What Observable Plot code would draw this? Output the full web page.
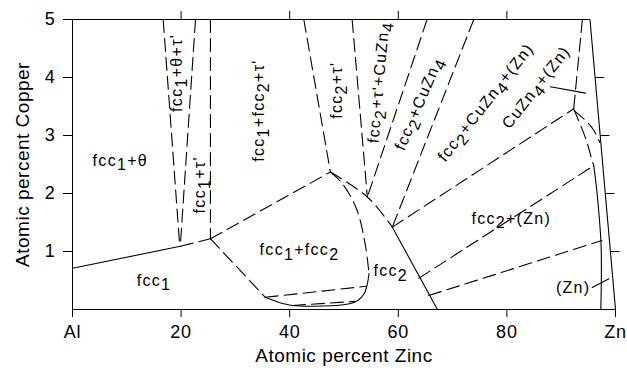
<!DOCTYPE html>
<html><head><meta charset="utf-8">
<script src="https://cdn.jsdelivr.net/npm/d3@7"></script>
<script src="https://cdn.jsdelivr.net/npm/@observablehq/plot@0.6"></script>
<style>
body{margin:0;background:#fff}
svg{font-family:"Liberation Sans",Arial,sans-serif}
g[aria-description="phase-labels"] text{letter-spacing:1.3px;font-size:16px}
g[aria-description="axis-title"] text{letter-spacing:0.5px}
</style></head><body><div id="chart"></div>
<script>
// ---- axis ticks ----
const xTicks = [0, 20, 40, 60, 80, 100];
const xTickLabels = ["Al", "20", "40", "60", "80", "Zn"];
const yTicks = [1, 2, 3, 4, 5];
const rightTicks = [1, 2, 3, 4];

// ---- solid phase boundaries [at% Zn, at% Cu] ----
const fcc1Solvus = [[0, 0.71], [19.85, 1.09]];
const fcc1fcc2Bottom = [[54.6, 0.62], [54.3, 0.44], [53.7, 0.27], [52.6, 0.16], [51, 0.1], [46, 0.06], [40.5, 0.07], [37.8, 0.13], [35.5, 0.21]];
const fcc2Lower = [[58.9, 1.42], [67.2, 0]];
const znEdge = [[95.3, 5], [100, 0]];
const znSolvus = [[96.0, 2.48], [96.5, 2.1], [97.0, 1.6], [97.35, 1.1], [97.4, 0.6], [97.3, 0]];
const cuZn4Tie = [[88, 3.84], [94.5, 3.73]];
const znLeader = [[95.7, 0.38], [98.8, 0.53]];

// ---- dashed phase boundaries ----
const thetaLeft = [[16.7, 5], [19.75, 1.09]];
const thetaRight = [[22.65, 5], [19.85, 1.09]];
const tauLeft = [[25.4, 5], [25.4, 1.22]];
const fcc1SolvusDash = [[19.85, 1.09], [25.4, 1.22]];
const fcc1fcc2Top = [[25.4, 1.22], [47.5, 2.37]];
const fcc1fcc2Left = [[25.4, 1.22], [35.5, 0.21]];
const fcc1fcc2Right = [[47.5, 2.37], [49.7, 2.17], [52.4, 1.71], [54.0, 1.07], [54.6, 0.62]];
const tauFcc2Left = [[42.6, 5], [47.5, 2.37]];
const fcc2Upper = [[47.5, 2.37], [54.3, 1.94], [58.9, 1.42]];
const tauFcc2Right = [[51.5, 5], [54.3, 1.94]];
const cuZn4Left = [[65.3, 5], [54.3, 1.94]];
const cuZn4Right = [[73.9, 5], [58.9, 1.42]];
const threePhase = [[58.9, 1.42], [92.3, 3.46]];
const cuZn4Edge = [[93.9, 5], [92.3, 3.46]];
const znSolvusDash = [[92.3, 3.46], [94.5, 2.95], [95.6, 2.6], [96.0, 2.48]];
const cuZn4Arc = [[92.4, 3.43], [94.8, 3.23], [96.0, 3.09], [97.1, 2.88]];
const tieA = [[35.5, 0.21], [54.0, 0.40]];
const tieB = [[40.5, 0.07], [52.1, 0.14]];
const tieC = [[63.8, 0.54], [96.0, 2.48]];
const tieD = [[65.6, 0.24], [97.5, 1.19]];

// ---- phase labels ----
const labelText = ["fcc_1+θ", "fcc_1", "fcc_1+θ+τ'", "fcc_1+τ'", "fcc_1+fcc_2+τ'", "fcc_2+τ'", "fcc_2+τ'+CuZn_4", "fcc_2+CuZn_4", "fcc_2+CuZn_4+(Zn)", "CuZn_4+(Zn)", "fcc_2+(Zn)", "fcc_1+fcc_2", "fcc_2", "(Zn)"];
const labelX = [8.8, 15, 19.3, 23.5, 34.3, 48.7, 56.4, 63.8, 76.1, 85.4, 80.8, 41.8, 58.6, 92.2];
const labelY = [2.57, 0.5, 4.08, 2.15, 3.43, 3.78, 3.92, 3.55, 3.57, 3.83, 1.57, 1.02, 0.67, 0.38];
const labelAngle = [0, 0, -90, -90, -90, -90, -85, -67, -52, -52, 0, 0, 0, 0];

const toRows = (lines) => lines.flatMap((pts, i) => pts.map(([x, y]) => ({id: i, x, y})));
const solidRows = toRows([fcc1Solvus, fcc1fcc2Bottom, fcc2Lower, znEdge, znSolvus, cuZn4Tie, znLeader]);
const dashedRows = toRows([thetaLeft, thetaRight, tauLeft, fcc1SolvusDash, fcc1fcc2Top, fcc1fcc2Left, fcc1fcc2Right, tauFcc2Left, fcc2Upper, tauFcc2Right, cuZn4Left, cuZn4Right, threePhase, cuZn4Edge, znSolvusDash, cuZn4Arc, tieA, tieB, tieC, tieD]);
const labels = labelText.map((t, i) => ({t, x: labelX[i], y: labelY[i], r: labelAngle[i]}));
const edgeX = (y) => znEdge[0][0] + (znEdge[1][0] - znEdge[0][0]) * (znEdge[0][1] - y) / (znEdge[0][1] - znEdge[1][1]);
const rightTickRows = rightTicks.map(y => ({x1: edgeX(y), x2: edgeX(y) + 1.7, y}));

const plot = Plot.plot({
  width: 627, height: 370,
  marginLeft: 72, marginRight: 12, marginTop: 19, marginBottom: 61,
  style: {fontFamily: "Liberation Sans, Arial, sans-serif", fontSize: "18px", color: "black", background: "white"},
  x: {domain: [0, 100]},
  y: {domain: [0, 5]},
  marks: [
    Plot.axisX({ticks: xTicks, tickFormat: (d) => xTickLabels[xTicks.indexOf(d)], tickSize: 8, tickPadding: 8, label: null, fontSize: 18}),
    Plot.axisX({anchor: "top", ticks: [20, 40, 60, 80], tickSize: 9, tickFormat: () => "", label: null}),
    Plot.axisY({ticks: yTicks, tickFormat: (d) => String(d), tickSize: 9, tickPadding: 8, label: null, fontSize: 18}),
    Plot.ruleX([0], {stroke: "black"}),
    Plot.ruleY([0], {stroke: "black"}),
    Plot.ruleY([5], {x1: 0, x2: znEdge[0][0], stroke: "black"}),
    Plot.link(rightTickRows, {x1: "x1", x2: "x2", y1: "y", y2: "y", stroke: "black"}),
    Plot.line(solidRows, {x: "x", y: "y", z: "id", stroke: "black", strokeWidth: 1.1, curve: "catmull-rom"}),
    Plot.line(dashedRows, {x: "x", y: "y", z: "id", stroke: "black", strokeWidth: 1.1, strokeDasharray: "13,6", curve: "catmull-rom"}),
    Plot.text(labels, {x: "x", y: "y", text: "t", rotate: "r", fontSize: 16, fill: "black", ariaDescription: "phase-labels"}),
    Plot.text(["Atomic percent Zinc"], {frameAnchor: "bottom", lineAnchor: "middle", textAnchor: "middle", dy: 46, fontSize: 19, fill: "black", ariaDescription: "axis-title"}),
    Plot.text(["Atomic percent Copper"], {frameAnchor: "left", lineAnchor: "middle", textAnchor: "middle", dx: -50, rotate: -90, fontSize: 19, fill: "black", ariaDescription: "axis-title"})
  ]
});

// tick label font size and spacing
plot.querySelectorAll('g[aria-label$="tick label"]').forEach((g) => {
  g.setAttribute("font-size", "18");
  g.style.fontSize = "18px";
  g.style.letterSpacing = "0.8px";
});

// render subscripts as tspans
plot.querySelectorAll("text").forEach((t) => {
  const s = t.textContent;
  if (!/_\d/.test(s)) return;
  t.textContent = "";
  const re = /_(\d)/g;
  let last = 0, m, shifted = false;
  const add = (str, dy) => {
    const ts = document.createElementNS("http://www.w3.org/2000/svg", "tspan");
    if (dy) ts.setAttribute("dy", dy);
    ts.textContent = str;
    t.appendChild(ts);
  };
  while ((m = re.exec(s))) {
    if (m.index > last) { add(s.slice(last, m.index), shifted ? "-0.3em" : null); shifted = false; }
    add(m[1], "0.3em"); shifted = true;
    last = re.lastIndex;
  }
  if (last < s.length) add(s.slice(last), shifted ? "-0.3em" : null);
});

document.getElementById("chart").appendChild(plot);
</script></body></html>
